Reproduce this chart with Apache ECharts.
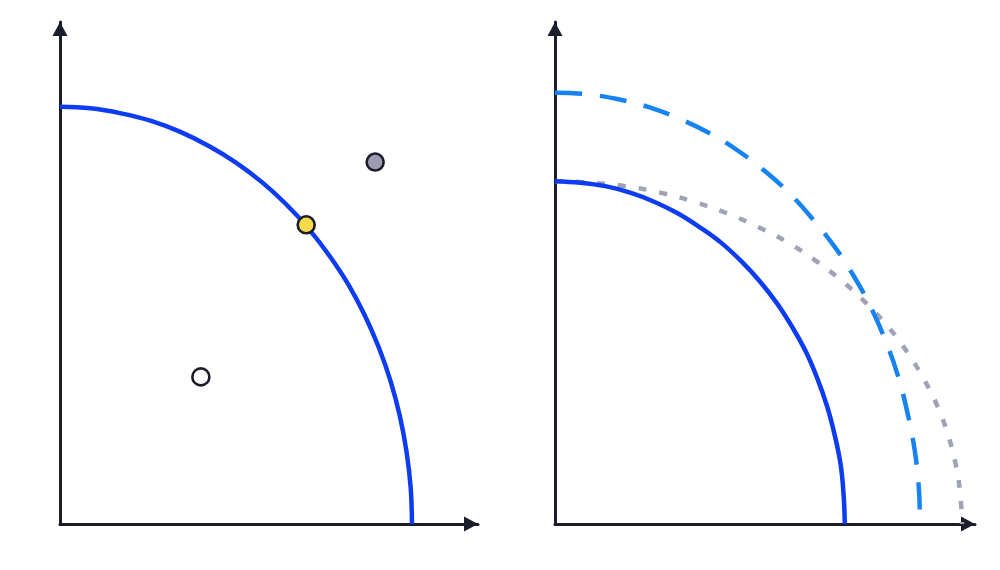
<!DOCTYPE html>
<html><head><meta charset="utf-8">
<script src="https://cdn.jsdelivr.net/npm/echarts@6/dist/echarts.min.js"></script>
<style>html,body{margin:0;padding:0;background:#fff}#c{width:1000px;height:570px}</style>
</head><body><div id="c"></div>
<script>
// Left panel frontier
const leftX = [0,7.3,14.6,21.8,28.8,35.6,42.1,48.3,54.1,59.5,64.5,69.0,72.9,76.3,79.1,81.3,82.9,83.9,84.2];
const leftY = [83.1,82.8,81.8,80.3,78.1,75.3,72.0,68.1,63.7,58.8,53.4,47.7,41.6,35.1,28.4,21.5,14.4,7.2,0];
const pointInside = [[33.7,29.3]];
const pointOn = [[58.9,59.6]];
const pointOutside = [[75.4,72.1]];
// Right panel frontiers
const origX = [0,6.0,12.0,17.9,23.6,29.2,34.5,39.6,44.4,48.8,52.9,56.5,59.8,62.5,64.8,66.6,68.0,68.7,69.0];
const origY = [68.3,68.0,67.3,66.0,64.2,61.9,59.1,56.0,52.3,48.3,43.9,39.2,34.2,28.9,23.4,17.7,11.9,6.0,0];
const growX = [0,7.6,15.1,22.5,29.7,36.7,43.5,49.8,55.9,61.4,66.6,71.2,75.3,78.8,81.7,83.9,85.6,86.6,86.9];
const growY = [85.9,85.6,84.6,83.0,80.7,77.9,74.4,70.4,65.8,60.7,55.2,49.3,43.0,36.3,29.4,22.2,14.9,7.5,0];
const xOnlyX = [0,8.4,16.8,25.1,33.1,40.9,48.5,55.6,62.3,68.5,74.2,79.4,83.9,87.8,91.1,93.6,95.4,96.5,96.9];
const xOnlyY = [68.3,68.0,67.3,66.0,64.2,61.9,59.1,56.0,52.3,48.3,43.9,39.2,34.2,28.9,23.4,17.7,11.9,6.0,0];

const zip = (xs, ys) => xs.map((x, i) => [x, ys[i]]);
const axisColor = '#1b1d2b';
function mkAxis(idx){
  return {type:'value', gridIndex:idx, min:0, max:100,
    axisLine:{show:true, lineStyle:{color:axisColor,width:3}, symbol:['none','triangle'], symbolSize:[15,14], symbolOffset:[0,-7]},
    axisTick:{show:false}, axisLabel:{show:false}, splitLine:{show:false}};
}
const chart = echarts.init(document.getElementById('c'));
chart.setOption({
  animation:false,
  grid:[{left:60,top:22,width:418,height:502},{left:555,top:22,width:420,height:502}],
  xAxis:[mkAxis(0),mkAxis(1)],
  yAxis:[mkAxis(0),mkAxis(1)],
  series:[
    {type:'line',xAxisIndex:0,yAxisIndex:0,data:zip(leftX,leftY),smooth:0.4,showSymbol:false,lineStyle:{color:'#0d3cf2',width:4.5},z:2},
    {type:'line',xAxisIndex:1,yAxisIndex:1,data:zip(xOnlyX,xOnlyY),smooth:0.4,showSymbol:false,lineStyle:{color:'#a0a3b6',width:4.5,type:[8,13]},z:2},
    {type:'line',xAxisIndex:1,yAxisIndex:1,data:zip(growX,growY),smooth:0.4,showSymbol:false,lineStyle:{color:'#1683f2',width:4.5,type:[27,18]},z:2},
    {type:'line',xAxisIndex:1,yAxisIndex:1,data:zip(origX,origY),smooth:0.4,showSymbol:false,lineStyle:{color:'#0d3cf2',width:4.5},z:3},
    {type:'scatter',xAxisIndex:0,yAxisIndex:0,data:pointInside,symbolSize:17,itemStyle:{color:'#ffffff',borderColor:axisColor,borderWidth:2.6,opacity:1},z:5},
    {type:'scatter',xAxisIndex:0,yAxisIndex:0,data:pointOn,symbolSize:17,itemStyle:{color:'#f7d94c',borderColor:axisColor,borderWidth:2.6,opacity:1},z:5},
    {type:'scatter',xAxisIndex:0,yAxisIndex:0,data:pointOutside,symbolSize:17,itemStyle:{color:'#9a9db1',borderColor:axisColor,borderWidth:2.6,opacity:1},z:5}
  ]
});
</script></body></html>
